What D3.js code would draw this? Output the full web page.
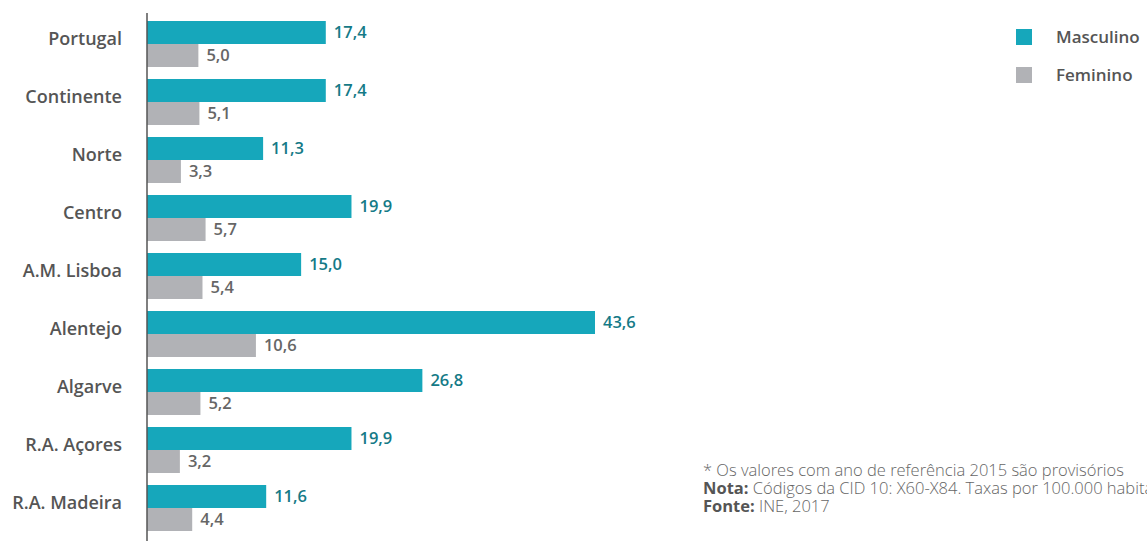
<!DOCTYPE html>
<html>
<head>
<meta charset="utf-8">
<script src="https://cdn.jsdelivr.net/npm/d3@7"></script>
<style>
  body { margin: 0; background: #fff; }
  svg { font-family: "Open Sans", sans-serif; }
</style>
</head>
<body>
<svg id="chart" width="1147" height="541"></svg>
<script>
const regions = ["Portugal", "Continente", "Norte", "Centro", "A.M. Lisboa", "Alentejo", "Algarve", "R.A. Açores", "R.A. Madeira"];
const masculino = [17.4, 17.4, 11.3, 19.9, 15.0, 43.6, 26.8, 19.9, 11.6];
const feminino = [5.0, 5.1, 3.3, 5.7, 5.4, 10.6, 5.2, 3.2, 4.4];
const seriesNames = ["Masculino", "Feminino"];
const colors = ["#16a7bb", "#b1b2b6"];
const labelColors = ["#157a87", "#666"];

const svg = d3.select("#chart");
const left = 147;

const x = d3.scaleLinear().domain([0, 43.6]).range([left, 595]);
const y = d3.scaleBand().domain(regions).range([15, 537])
    .paddingInner(0.207).paddingOuter(0.1035);
const sub = d3.scaleBand().domain(seriesNames).range([0, y.bandwidth()]);

const fmt = v => v.toFixed(1).replace(".", ",");

const data = regions.map((r, i) => ({ region: r, values: [masculino[i], feminino[i]] }));

const groups = svg.selectAll(".group")
    .data(data)
    .join("g")
    .attr("class", "group")
    .attr("transform", d => `translate(0,${y(d.region)})`);

seriesNames.forEach((s, si) => {
    groups.append("rect")
        .attr("x", x(0))
        .attr("y", sub(s))
        .attr("width", d => x(d.values[si]) - x(0))
        .attr("height", sub.bandwidth())
        .attr("fill", colors[si]);

    groups.append("text")
        .attr("x", d => x(d.values[si]) + 8)
        .attr("y", sub(s) + sub.bandwidth() / 2)
        .attr("dy", "0.35em")
        .attr("fill", labelColors[si])
        .attr("font-size", 16.5)
        .attr("font-weight", 600)
        .text(d => fmt(d.values[si]));
});

// category labels
svg.append("g")
    .attr("transform", "translate(122,0)")
    .selectAll("text")
    .data(regions)
    .join("text")
    .attr("y", d => y(d) + y.bandwidth() / 2 + 1)
    .attr("text-anchor", "end")
    .attr("fill", "#555")
    .attr("font-size", 18)
    .attr("font-weight", 600)
    .text(d => d);

// axis line
svg.append("line")
    .attr("x1", left).attr("x2", left)
    .attr("y1", 13).attr("y2", 541)
    .attr("stroke", "#555")
    .attr("stroke-width", 1.5);

// legend
const legend = svg.append("g").attr("transform", "translate(1016,29)");
seriesNames.forEach((s, i) => {
    legend.append("rect")
        .attr("x", 0).attr("y", i * 38)
        .attr("width", 16).attr("height", 16)
        .attr("fill", colors[i]);
    legend.append("text")
        .attr("x", 40).attr("y", i * 38 + 8)
        .attr("dy", "0.35em")
        .attr("fill", "#555")
        .attr("font-size", 17)
        .attr("font-weight", 600)
        .text(s);
});

// footnotes
const notes = svg.append("g")
    .attr("transform", "translate(703,0)")
    .attr("font-size", 16.5)
    .attr("fill", "#666")
    .attr("font-weight", 300);
notes.append("text").attr("y", 476).text("* Os valores com ano de referência 2015 são provisórios");
const n2 = notes.append("text").attr("y", 494);
n2.append("tspan").attr("font-weight", 700).attr("fill", "#555").text("Nota:");
n2.append("tspan").text(" Códigos da CID 10: X60-X84. Taxas por 100.000 habitantes");
const n3 = notes.append("text").attr("y", 512);
n3.append("tspan").attr("font-weight", 700).attr("fill", "#555").text("Fonte:");
n3.append("tspan").text(" INE, 2017");
</script>
</body>
</html>
